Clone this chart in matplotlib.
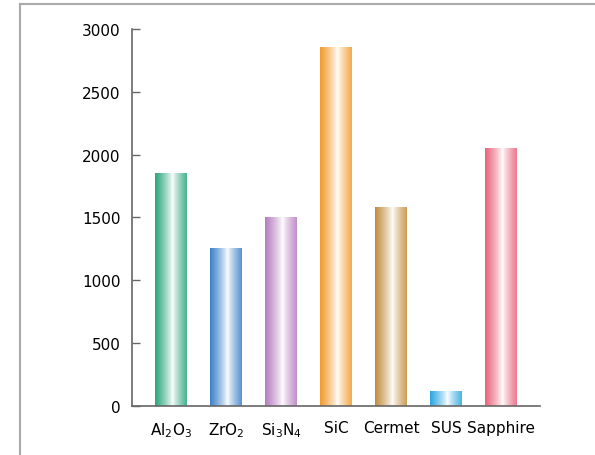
import numpy as np
import matplotlib.pyplot as plt
from matplotlib.colors import LinearSegmentedColormap
from matplotlib.lines import Line2D

plt.rcParams['font.family'] = ['DejaVu Sans']
plt.rcParams['mathtext.default'] = 'regular'

materials = ['Al$_2$O$_3$', 'ZrO$_2$', 'Si$_3$N$_4$', 'SiC', 'Cermet', 'SUS', 'Sapphire']
values = [1850, 1250, 1500, 2850, 1580, 115, 2050]
colors = ['#27a57c', '#3a80c9', '#b57cbf', '#f39a2c', '#c28d3c', '#2ba6df', '#e9627a']

fig = plt.figure(figsize=(5.95, 4.56), dpi=100)
ax = fig.add_axes([0.2218, 0.1075, 0.6858, 0.8267])

x = np.arange(len(materials))
width = 0.57
grad = np.linspace(0, 1, 256)
grad = np.abs(grad - 0.55) / 0.55
grad = grad ** 0.8
for xi, v, c in zip(x, values, colors):
    cmap = LinearSegmentedColormap.from_list('g', ['#ffffff', c])
    ax.imshow(grad[np.newaxis, :], cmap=cmap, vmin=0, vmax=1, aspect='auto',
              extent=(xi - width / 2, xi + width / 2, 0, v), interpolation='bilinear',
              zorder=2)

ax.set_xlim(-0.71, len(materials) - 1 + 0.71)
ax.set_ylim(0, 3000)
ax.set_yticks(np.arange(0, 3001, 500))
ax.set_xticks(x)
ax.set_xticklabels(materials, fontsize=11)
ax.tick_params(axis='x', length=0, pad=10)
ax.tick_params(axis='y', direction='in', length=6, width=1, color='#666666',
               labelsize=11, pad=8)
for s in ['top', 'right']:
    ax.spines[s].set_visible(False)
for s in ['left', 'bottom']:
    ax.spines[s].set_color('#666666')
    ax.spines[s].set_linewidth(1.2)

# outer frame (partial)
fig.add_artist(Line2D([0.0336, 0.0336], [0, 0.989], color='#aaaaaa', lw=1.5,
                      transform=fig.transFigure))
fig.add_artist(Line2D([0.0336, 1.0], [0.989, 0.989], color='#aaaaaa', lw=1.5,
                      transform=fig.transFigure))

fig.savefig('out.png', dpi=100)
